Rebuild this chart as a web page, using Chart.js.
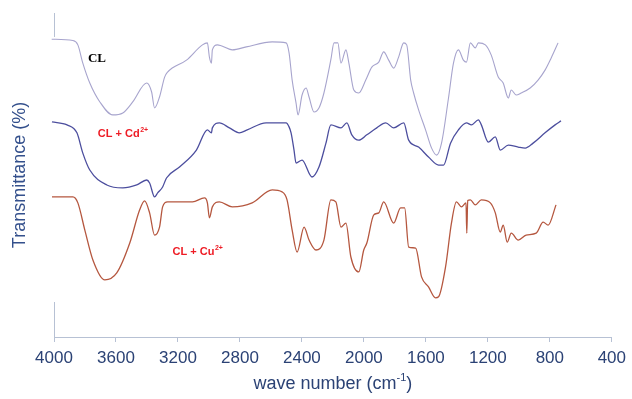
<!DOCTYPE html>
<html>
<head>
<meta charset="utf-8">
<script src="https://cdn.jsdelivr.net/npm/chart.js@4/dist/chart.umd.min.js"></script>
<style>
  html, body { margin: 0; padding: 0; background: #ffffff; }
  #wrap { width: 632px; height: 399px; }
</style>
</head>
<body>
<div id="wrap"><canvas id="c" width="632" height="399"></canvas></div>
<script>
// FTIR spectra: wavenumber (cm-1) vs transmittance (%), three samples stacked

const xTicks = [4000, 3600, 3200, 2800, 2400, 2000, 1600, 1200, 800, 400];

const clWave = [4015, 3878, 3846, 3814, 3769, 3704, 3621, 3556, 3492, 3402, 3370, 3351, 3319, 3286, 3267,
  3145, 3042, 3010, 2997, 2984, 2978, 2946, 2849, 2759, 2592, 2502, 2483, 2463, 2438, 2425, 2399, 2373,
  2354, 2322, 2290, 2258, 2213, 2193, 2168, 2148, 2116, 2097, 2065, 2033, 1988, 1949, 1904, 1872, 1840,
  1808, 1776, 1743, 1724, 1698, 1679, 1647, 1602, 1563, 1531, 1499, 1454, 1422, 1390, 1358, 1338, 1313,
  1281, 1261, 1216, 1178, 1133, 1101, 1068, 1049, 1017, 985, 927, 876, 831, 792, 747];
const clT = [92.1, 91.7, 90.4, 84.9, 78.9, 73.2, 69.3, 69.9, 73.2, 78.9, 76.2, 71.4, 74.7, 80.7, 82.2,
  85.8, 90.4, 91.0, 86.7, 84.9, 88.9, 90.4, 88.9, 89.8, 91.3, 91.0, 88.0, 79.8, 72.9, 69.3, 75.3, 77.4,
  74.7, 70.2, 71.4, 75.9, 86.0, 91.0, 91.0, 84.9, 88.9, 84.9, 76.8, 75.9, 79.8, 83.7, 85.2, 88.3, 85.8,
  83.4, 86.7, 91.0, 90.4, 79.8, 75.9, 70.8, 64.8, 59.3, 57.2, 60.8, 74.4, 84.9, 88.9, 85.8, 85.2, 91.0,
  89.5, 91.0, 90.4, 87.3, 80.7, 78.9, 74.4, 76.8, 75.3, 75.9, 77.4, 79.8, 82.8, 86.4, 91.0];

const cdWave = [4013, 3916, 3852, 3814, 3769, 3659, 3556, 3466, 3402, 3383, 3351, 3331, 3299, 3274, 3190,
  3081, 3010, 2984, 2978, 2933, 2868, 2804, 2753, 2631, 2502, 2483, 2470, 2451, 2438, 2399, 2335, 2290,
  2245, 2213, 2148, 2110, 2078, 2033, 1981, 1917, 1859, 1808, 1743, 1711, 1647, 1583, 1518, 1486, 1441,
  1390, 1338, 1306, 1261, 1242, 1197, 1152, 1120, 1068, 1004, 959, 908, 831, 766, 728];
const cdT = [67.2, 66.3, 63.9, 57.8, 52.7, 48.2, 47.3, 48.2, 49.7, 48.8, 44.6, 45.8, 47.6, 50.3, 53.6,
  58.7, 64.8, 63.9, 65.4, 66.9, 65.4, 63.9, 64.8, 66.9, 66.9, 65.7, 63.9, 58.7, 54.8, 55.7, 50.6, 53.6,
  60.8, 66.3, 65.4, 66.9, 63.3, 61.7, 63.3, 65.4, 66.9, 65.4, 66.9, 61.7, 59.6, 56.6, 54.2, 54.2, 60.8,
  64.8, 66.9, 66.3, 67.8, 66.3, 61.1, 62.7, 58.7, 60.2, 59.6, 59.3, 60.8, 63.9, 66.3, 67.5];

const cuWave = [4013, 3878, 3846, 3801, 3749, 3672, 3595, 3511, 3447, 3415, 3383, 3351, 3319, 3299, 3267,
  3106, 3029, 3010, 2997, 2978, 2933, 2849, 2721, 2592, 2528, 2496, 2463, 2431, 2386, 2354, 2309, 2258,
  2213, 2181, 2148, 2116, 2084, 2033, 2001, 1981, 1936, 1904, 1872, 1808, 1763, 1737, 1711, 1666, 1628,
  1583, 1538, 1518, 1473, 1435, 1403, 1370, 1341, 1336, 1330, 1313, 1281, 1242, 1184, 1152, 1120, 1101,
  1075, 1049, 1004, 953, 888, 843, 811, 760];
const cuT = [44.6, 44.6, 42.8, 34.6, 25.6, 19.6, 21.7, 30.7, 40.7, 43.4, 39.8, 33.1, 35.5, 41.6, 43.1,
  43.1, 44.3, 42.8, 38.3, 41.6, 43.1, 41.6, 42.8, 46.7, 46.1, 43.7, 34.6, 28.0, 35.5, 31.6, 28.6, 31.6,
  43.7, 43.1, 35.5, 36.7, 26.5, 22.0, 28.6, 30.7, 39.2, 39.8, 43.1, 36.7, 41.3, 41.3, 29.5, 29.2, 20.5,
  17.5, 14.2, 14.5, 23.5, 36.7, 43.1, 41.6, 42.8, 33.7, 43.5, 43.7, 42.2, 43.7, 42.8, 39.8, 34.0, 36.1,
  31.0, 33.7, 31.6, 33.1, 33.7, 37.0, 36.1, 42.2];

const seriesNames = ['CL', 'CL + Cd2+', 'CL + Cu2+'];

const toPoints = (xs, ys) => xs.map((x, i) => ({ x: x, y: ys[i] }));

const AXIS_COLOR = '#b7c1d4';
const TEXT_COLOR = '#2b4275';

// in-plot sample labels, placed in data coordinates
const sampleLabels = [
  { main: 'CL', sup: '', x: 3781, y: 85.2, font: 'bold 13px "Liberation Serif"', supFont: '', color: '#000000' },
  { main: 'CL + Cd', sup: '2+', x: 3717, y: 62.7, font: 'bold 11px "Liberation Sans"', supFont: 'bold 7px "Liberation Sans"', color: '#ee1c25' },
  { main: 'CL + Cu', sup: '2+', x: 3235, y: 27.1, font: 'bold 11px "Liberation Sans"', supFont: 'bold 7px "Liberation Sans"', color: '#ee1c25' }
];

const decorations = {
  id: 'decorations',
  afterDraw(chart) {
    const ctx = chart.ctx;
    const xs = chart.scales.x, ys = chart.scales.y;
    const area = chart.chartArea;
    ctx.save();
    // short stubs of the vertical axis at top and bottom
    ctx.strokeStyle = AXIS_COLOR;
    ctx.lineWidth = 1;
    ctx.beginPath();
    ctx.moveTo(area.left + 0.5, area.top);
    ctx.lineTo(area.left + 0.5, area.top + 24);
    ctx.moveTo(area.left + 0.5, area.bottom - 35);
    ctx.lineTo(area.left + 0.5, area.bottom);
    ctx.stroke();

    // sample labels
    ctx.textBaseline = 'alphabetic';
    ctx.textAlign = 'left';
    sampleLabels.forEach(l => {
      const px = xs.getPixelForValue(l.x);
      const py = ys.getPixelForValue(l.y);
      ctx.fillStyle = l.color;
      ctx.font = l.font;
      ctx.fillText(l.main, px, py);
      if (l.sup) {
        const w = ctx.measureText(l.main).width;
        ctx.font = l.supFont;
        ctx.fillText(l.sup, px + w + 0.5, py - 5);
      }
    });

    // horizontal axis title with superscript
    const t1 = 'wave number (cm', t2 = '-1', t3 = ')';
    ctx.fillStyle = TEXT_COLOR;
    ctx.font = '18px "Liberation Sans"';
    const w1 = ctx.measureText(t1).width;
    const w3 = ctx.measureText(t3).width;
    ctx.font = '11px "Liberation Sans"';
    const w2 = ctx.measureText(t2).width;
    const cx = (area.left + area.right) / 2;
    const start = cx - (w1 + w2 + w3) / 2;
    const base = 389;
    ctx.font = '18px "Liberation Sans"';
    ctx.fillText(t1, start, base);
    ctx.font = '11px "Liberation Sans"';
    ctx.fillText(t2, start + w1, base - 8);
    ctx.font = '18px "Liberation Sans"';
    ctx.fillText(t3, start + w1 + w2, base);
    ctx.restore();
  }
};

new Chart(document.getElementById('c'), {
  type: 'line',
  data: {
    datasets: [
      { label: seriesNames[0], data: toPoints(clWave, clT), borderColor: '#a7a4cd', borderWidth: 1.1 },
      { label: seriesNames[1], data: toPoints(cdWave, cdT), borderColor: '#4c4e9e', borderWidth: 1.3 },
      { label: seriesNames[2], data: toPoints(cuWave, cuT), borderColor: '#b5573f', borderWidth: 1.3 }
    ]
  },
  options: {
    responsive: false,
    animation: false,
    devicePixelRatio: 1,
    layout: { padding: { top: 13, right: 18, left: 0, bottom: 0 } },
    elements: {
      point: { radius: 0 },
      line: { cubicInterpolationMode: 'monotone', fill: false }
    },
    datasets: { line: { clip: false } },
    plugins: { legend: { display: false }, tooltip: { enabled: false } },
    scales: {
      x: {
        type: 'linear',
        reverse: true,
        min: 400,
        max: 4000,
        afterFit: s => { s.height = 62; },
        afterBuildTicks: s => { s.ticks = xTicks.map(v => ({ value: v })); },
        border: { display: true, color: AXIS_COLOR, width: 1 },
        grid: { display: true, drawOnChartArea: false, drawTicks: true, tickLength: 5, color: AXIS_COLOR },
        ticks: {
          autoSkip: false, maxRotation: 0, padding: 6, color: TEXT_COLOR,
          font: { family: 'Liberation Sans', size: 17 },
          callback: v => String(v)
        },
        title: { display: false }
      },
      y: {
        type: 'linear',
        min: 2.4,
        max: 100,
        afterFit: s => { s.width = 54; },
        border: { display: false },
        grid: { display: false },
        ticks: { display: false },
        title: {
          display: true,
          text: 'Transmittance (%)',
          color: '#34508c',
          font: { family: 'Liberation Sans', size: 18 },
          padding: { top: 9, bottom: 0 }
        }
      }
    }
  },
  plugins: [decorations]
});
</script>
</body>
</html>
